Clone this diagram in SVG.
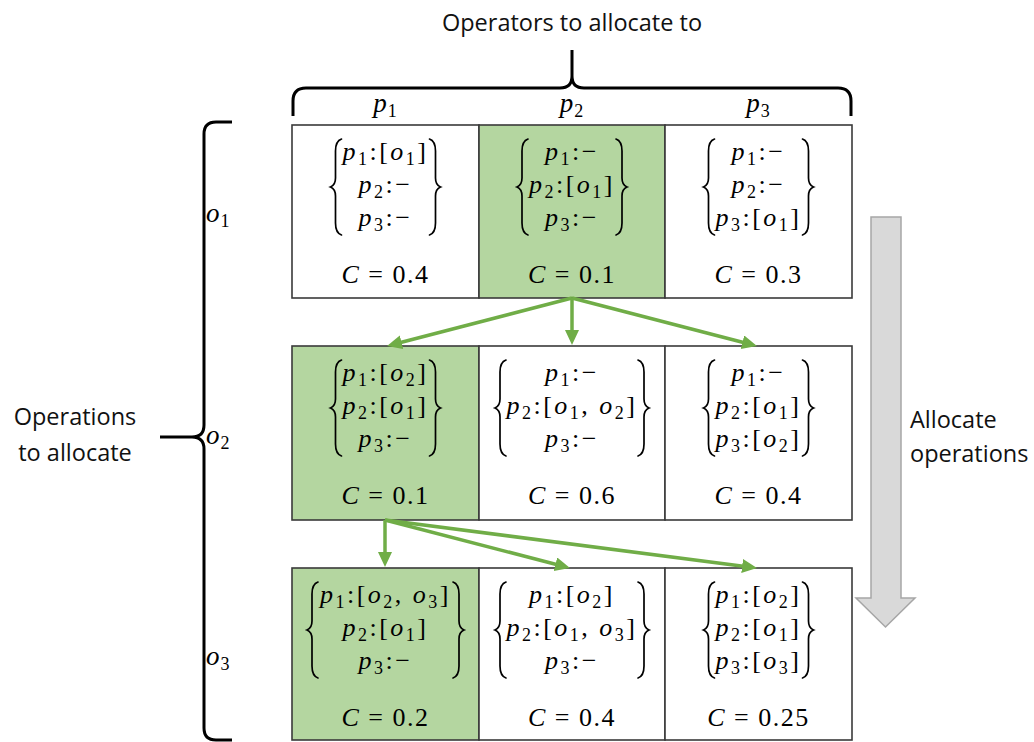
<svg xmlns="http://www.w3.org/2000/svg" width="1034" height="742" viewBox="0 0 1034 742">
  <style>
    .bg { fill: #ffffff; }
    .cell { fill: #ffffff; stroke: #3a3a3a; stroke-width: 1.6; }
    .cell.sel { fill: #b4d6a0; }
    .m { font-family: "Liberation Serif", "DejaVu Serif", serif; font-size: 26px; fill: #000; letter-spacing: 2.5px; text-anchor: middle; }
    .h { font-size: 27px; letter-spacing: 1px; }
    .c { letter-spacing: 1.5px; }
    .i { font-style: italic; }
    .s { font-size: 18px; }
    .lbl { font-family: "Open Sans", "Noto Sans", sans-serif; font-size: 23.5px; fill: #111; }
    .br { fill: none; stroke: #000; stroke-width: 1.7; stroke-linecap: round; }
    .big { fill: none; stroke: #000; stroke-width: 3; stroke-linejoin: round; }
    .edge { stroke: #70ad47; stroke-width: 3.5; fill: none; marker-end: url(#head); }
    .flow { fill: #d9d9d9; stroke: #a6a6a6; stroke-width: 1.5; }
  </style>
  <defs>
    <marker id="head" markerUnits="userSpaceOnUse" markerWidth="16" markerHeight="16" refX="5" refY="7" orient="auto">
      <path d="M0,0 L15,7 L0,14 z" fill="#70ad47"/>
    </marker>
    <!-- stretched matrix delimiters, origin at the cusp column / top end -->
    <path id="lb" class="br" d="M11,0 Q5,2 5,12 V39 Q5,46 0,48 Q5,50 5,57 V84 Q5,94 11,96"/>
    <path id="rb" class="br" d="M-11,0 Q-5,2 -5,12 V39 Q-5,46 0,48 Q-5,50 -5,57 V84 Q-5,94 -11,96"/>
  </defs>
  <rect class="bg" x="0" y="0" width="1034" height="742"/>

  <!-- top axis: operators -->
  <g id="operators-axis">
    <text class="lbl" x="572" y="31" text-anchor="middle">Operators to allocate to</text>
    <path class="big" d="M293,116 V101 Q293,88 306,88 H560 Q572,88 572,76 V50 M572,76 Q572,88 584,88 H838 Q851,88 851,101 V116"/>
    <text class="m h" x="385.5" y="112"><tspan class="i">p</tspan><tspan class="s" dy="5">1</tspan></text>
    <text class="m h" x="572" y="112"><tspan class="i">p</tspan><tspan class="s" dy="5">2</tspan></text>
    <text class="m h" x="758.5" y="112"><tspan class="i">p</tspan><tspan class="s" dy="5">3</tspan></text>
  </g>

  <!-- left axis: operations -->
  <g id="operations-axis">
    <path class="big" d="M232,122 H216 Q204,122 204,134 V425 Q204,437 192,437 H160 M192,437 Q204,437 204,449 V728 Q204,740 216,740 H232"/>
    <text class="lbl" x="75" y="425" text-anchor="middle">Operations</text>
    <text class="lbl" x="75" y="461" text-anchor="middle">to allocate</text>
    <text class="m h" x="206" y="222" style="text-anchor:start"><tspan class="i">o</tspan><tspan class="s" dy="5">1</tspan></text>
    <text class="m h" x="206" y="444" style="text-anchor:start"><tspan class="i">o</tspan><tspan class="s" dy="5">2</tspan></text>
    <text class="m h" x="206" y="665" style="text-anchor:start"><tspan class="i">o</tspan><tspan class="s" dy="5">3</tspan></text>
  </g>

  <!-- row 1 -->
  <g id="cell-1-1">
    <rect class="cell" x="292" y="125" width="187" height="173"/>
    <use href="#lb" x="330.5" y="139"/><use href="#rb" x="440.5" y="139"/>
    <text class="m" x="385.5" y="160"><tspan class="i">p</tspan><tspan class="s" dy="5">1</tspan><tspan dy="-5">:[</tspan><tspan class="i">o</tspan><tspan class="s" dy="5">1</tspan><tspan dy="-5">]</tspan></text>
    <text class="m" x="385.5" y="193"><tspan class="i">p</tspan><tspan class="s" dy="5">2</tspan><tspan dy="-5">:−</tspan></text>
    <text class="m" x="385.5" y="226"><tspan class="i">p</tspan><tspan class="s" dy="5">3</tspan><tspan dy="-5">:−</tspan></text>
    <text class="m c" x="385.5" y="283"><tspan class="i">C</tspan> = 0.4</text>
  </g>
  <g id="cell-1-2">
    <rect class="cell sel" x="479" y="125" width="186" height="173"/>
    <use href="#lb" x="517" y="139"/><use href="#rb" x="627" y="139"/>
    <text class="m" x="572" y="160"><tspan class="i">p</tspan><tspan class="s" dy="5">1</tspan><tspan dy="-5">:−</tspan></text>
    <text class="m" x="572" y="193"><tspan class="i">p</tspan><tspan class="s" dy="5">2</tspan><tspan dy="-5">:[</tspan><tspan class="i">o</tspan><tspan class="s" dy="5">1</tspan><tspan dy="-5">]</tspan></text>
    <text class="m" x="572" y="226"><tspan class="i">p</tspan><tspan class="s" dy="5">3</tspan><tspan dy="-5">:−</tspan></text>
    <text class="m c" x="572" y="283"><tspan class="i">C</tspan> = 0.1</text>
  </g>
  <g id="cell-1-3">
    <rect class="cell" x="665" y="125" width="187" height="173"/>
    <use href="#lb" x="703.5" y="139"/><use href="#rb" x="813.5" y="139"/>
    <text class="m" x="758.5" y="160"><tspan class="i">p</tspan><tspan class="s" dy="5">1</tspan><tspan dy="-5">:−</tspan></text>
    <text class="m" x="758.5" y="193"><tspan class="i">p</tspan><tspan class="s" dy="5">2</tspan><tspan dy="-5">:−</tspan></text>
    <text class="m" x="758.5" y="226"><tspan class="i">p</tspan><tspan class="s" dy="5">3</tspan><tspan dy="-5">:[</tspan><tspan class="i">o</tspan><tspan class="s" dy="5">1</tspan><tspan dy="-5">]</tspan></text>
    <text class="m c" x="758.5" y="283"><tspan class="i">C</tspan> = 0.3</text>
  </g>

  <!-- row 2 -->
  <g id="cell-2-1">
    <rect class="cell sel" x="292" y="346" width="187" height="174"/>
    <use href="#lb" x="330.5" y="360"/><use href="#rb" x="440.5" y="360"/>
    <text class="m" x="385.5" y="381"><tspan class="i">p</tspan><tspan class="s" dy="5">1</tspan><tspan dy="-5">:[</tspan><tspan class="i">o</tspan><tspan class="s" dy="5">2</tspan><tspan dy="-5">]</tspan></text>
    <text class="m" x="385.5" y="414"><tspan class="i">p</tspan><tspan class="s" dy="5">2</tspan><tspan dy="-5">:[</tspan><tspan class="i">o</tspan><tspan class="s" dy="5">1</tspan><tspan dy="-5">]</tspan></text>
    <text class="m" x="385.5" y="447"><tspan class="i">p</tspan><tspan class="s" dy="5">3</tspan><tspan dy="-5">:−</tspan></text>
    <text class="m c" x="385.5" y="504"><tspan class="i">C</tspan> = 0.1</text>
  </g>
  <g id="cell-2-2">
    <rect class="cell" x="479" y="346" width="186" height="174"/>
    <use href="#lb" x="495" y="360"/><use href="#rb" x="649" y="360"/>
    <text class="m" x="572" y="381"><tspan class="i">p</tspan><tspan class="s" dy="5">1</tspan><tspan dy="-5">:−</tspan></text>
    <text class="m" x="572" y="414"><tspan class="i">p</tspan><tspan class="s" dy="5">2</tspan><tspan dy="-5">:[</tspan><tspan class="i">o</tspan><tspan class="s" dy="5">1</tspan><tspan dy="-5">, </tspan><tspan class="i">o</tspan><tspan class="s" dy="5">2</tspan><tspan dy="-5">]</tspan></text>
    <text class="m" x="572" y="447"><tspan class="i">p</tspan><tspan class="s" dy="5">3</tspan><tspan dy="-5">:−</tspan></text>
    <text class="m c" x="572" y="504"><tspan class="i">C</tspan> = 0.6</text>
  </g>
  <g id="cell-2-3">
    <rect class="cell" x="665" y="346" width="187" height="174"/>
    <use href="#lb" x="703.5" y="360"/><use href="#rb" x="813.5" y="360"/>
    <text class="m" x="758.5" y="381"><tspan class="i">p</tspan><tspan class="s" dy="5">1</tspan><tspan dy="-5">:−</tspan></text>
    <text class="m" x="758.5" y="414"><tspan class="i">p</tspan><tspan class="s" dy="5">2</tspan><tspan dy="-5">:[</tspan><tspan class="i">o</tspan><tspan class="s" dy="5">1</tspan><tspan dy="-5">]</tspan></text>
    <text class="m" x="758.5" y="447"><tspan class="i">p</tspan><tspan class="s" dy="5">3</tspan><tspan dy="-5">:[</tspan><tspan class="i">o</tspan><tspan class="s" dy="5">2</tspan><tspan dy="-5">]</tspan></text>
    <text class="m c" x="758.5" y="504"><tspan class="i">C</tspan> = 0.4</text>
  </g>

  <!-- row 3 -->
  <g id="cell-3-1">
    <rect class="cell sel" x="292" y="568" width="187" height="172"/>
    <use href="#lb" x="307" y="582"/><use href="#rb" x="464" y="582"/>
    <text class="m" x="385.5" y="603"><tspan class="i">p</tspan><tspan class="s" dy="5">1</tspan><tspan dy="-5">:[</tspan><tspan class="i">o</tspan><tspan class="s" dy="5">2</tspan><tspan dy="-5">, </tspan><tspan class="i">o</tspan><tspan class="s" dy="5">3</tspan><tspan dy="-5">]</tspan></text>
    <text class="m" x="385.5" y="636"><tspan class="i">p</tspan><tspan class="s" dy="5">2</tspan><tspan dy="-5">:[</tspan><tspan class="i">o</tspan><tspan class="s" dy="5">1</tspan><tspan dy="-5">]</tspan></text>
    <text class="m" x="385.5" y="669"><tspan class="i">p</tspan><tspan class="s" dy="5">3</tspan><tspan dy="-5">:−</tspan></text>
    <text class="m c" x="385.5" y="726"><tspan class="i">C</tspan> = 0.2</text>
  </g>
  <g id="cell-3-2">
    <rect class="cell" x="479" y="568" width="186" height="172"/>
    <use href="#lb" x="495" y="582"/><use href="#rb" x="649" y="582"/>
    <text class="m" x="572" y="603"><tspan class="i">p</tspan><tspan class="s" dy="5">1</tspan><tspan dy="-5">:[</tspan><tspan class="i">o</tspan><tspan class="s" dy="5">2</tspan><tspan dy="-5">]</tspan></text>
    <text class="m" x="572" y="636"><tspan class="i">p</tspan><tspan class="s" dy="5">2</tspan><tspan dy="-5">:[</tspan><tspan class="i">o</tspan><tspan class="s" dy="5">1</tspan><tspan dy="-5">, </tspan><tspan class="i">o</tspan><tspan class="s" dy="5">3</tspan><tspan dy="-5">]</tspan></text>
    <text class="m" x="572" y="669"><tspan class="i">p</tspan><tspan class="s" dy="5">3</tspan><tspan dy="-5">:−</tspan></text>
    <text class="m c" x="572" y="726"><tspan class="i">C</tspan> = 0.4</text>
  </g>
  <g id="cell-3-3">
    <rect class="cell" x="665" y="568" width="187" height="172"/>
    <use href="#lb" x="703.5" y="582"/><use href="#rb" x="813.5" y="582"/>
    <text class="m" x="758.5" y="603"><tspan class="i">p</tspan><tspan class="s" dy="5">1</tspan><tspan dy="-5">:[</tspan><tspan class="i">o</tspan><tspan class="s" dy="5">2</tspan><tspan dy="-5">]</tspan></text>
    <text class="m" x="758.5" y="636"><tspan class="i">p</tspan><tspan class="s" dy="5">2</tspan><tspan dy="-5">:[</tspan><tspan class="i">o</tspan><tspan class="s" dy="5">1</tspan><tspan dy="-5">]</tspan></text>
    <text class="m" x="758.5" y="669"><tspan class="i">p</tspan><tspan class="s" dy="5">3</tspan><tspan dy="-5">:[</tspan><tspan class="i">o</tspan><tspan class="s" dy="5">3</tspan><tspan dy="-5">]</tspan></text>
    <text class="m c" x="758.5" y="726"><tspan class="i">C</tspan> = 0.25</text>
  </g>

  <!-- expansion edges from the chosen cell of each row -->
  <g id="connectors">
    <line class="edge" x1="572" y1="298" x2="396.7" y2="343.5"/>
    <line class="edge" x1="572" y1="298" x2="572" y2="335"/>
    <line class="edge" x1="572" y1="298" x2="747.3" y2="343.5"/>
    <line class="edge" x1="385" y1="520" x2="385" y2="557"/>
    <line class="edge" x1="385" y1="520" x2="560.3" y2="565.5"/>
    <line class="edge" x1="385" y1="520" x2="747.1" y2="566.7"/>
  </g>

  <!-- process direction -->
  <g id="allocate-arrow">
    <path class="flow" d="M871,217 H901 V598 H915 L885.5,627 L856,598 H871 Z"/>
    <text class="lbl" x="910" y="428">Allocate</text>
    <text class="lbl" x="910" y="462">operations</text>
  </g>
</svg>
